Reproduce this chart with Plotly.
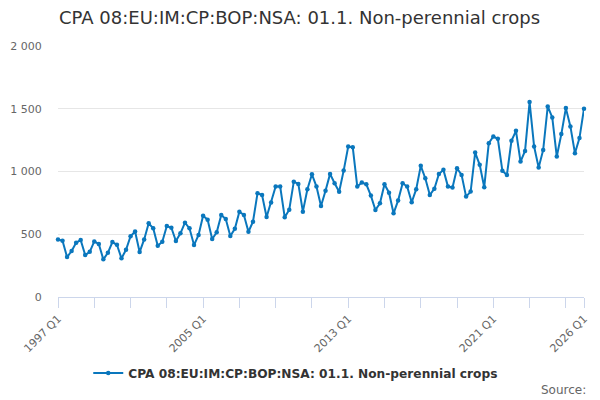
import plotly.graph_objects as go

years = list(range(1997, 2027))
quarters = [f"{y} Q{q}" for y in years for q in range(1, 5)][:117]

values = [
    459, 448, 318, 366,   # 1997
    432, 454, 334, 360,   # 1998
    443, 422, 300, 352,   # 1999
    438, 416, 308, 376,   # 2000
    484, 522, 358, 459,   # 2001
    587, 547, 408, 440,   # 2002
    565, 552, 446, 507,   # 2003
    592, 547, 414, 494,   # 2004
    648, 615, 462, 515,   # 2005
    653, 621, 486, 544,   # 2006
    680, 653, 520, 600,   # 2007
    827, 813, 637, 752,   # 2008
    880, 880, 635, 696,   # 2009
    919, 901, 680, 859,   # 2010
    978, 880, 725, 847,   # 2011
    981, 906, 839, 1007,  # 2012
    1199, 1194, 880, 912, # 2013
    898, 808, 693, 747,   # 2014
    898, 831, 667, 768,   # 2015
    906, 880, 755, 859,   # 2016
    1045, 946, 813, 863,  # 2017
    980, 1013, 880, 872,  # 2018
    1026, 973, 800, 840,  # 2019
    1151, 1053, 875, 1226,# 2020
    1279, 1260, 1005, 973,# 2021
    1245, 1324, 1079, 1164,# 2022
    1553, 1199, 1031, 1172,# 2023
    1518, 1431, 1119, 1298,# 2024
    1505, 1359, 1146, 1266,# 2025
    1500,                 # 2026
]

series_name = "CPA 08:EU:IM:CP:BOP:NSA: 01.1. Non-perennial crops"
title_text = "CPA 08:EU:IM:CP:BOP:NSA: 01.1. Non-perennial crops"
labelled_ticks = ["1997 Q1", "2005 Q1", "2013 Q1", "2021 Q1", "2026 Q1"]
y_ticks = [0, 500, 1000, 1500, 2000]
y_tick_labels = ["0", "500", "1 000", "1 500", "2 000"]

tick_positions = [quarters[i] for i in range(0, len(quarters), 8)]
if quarters[-1] not in tick_positions:
    tick_positions.append(quarters[-1])
tick_text = [q if q in labelled_ticks else "" for q in tick_positions]

color = "#0a77bd"
font_family = "DejaVu Sans"

fig = go.Figure()
fig.add_trace(go.Scatter(
    x=quarters, y=values, name=series_name,
    mode="lines+markers",
    line=dict(color=color, width=2),
    marker=dict(color=color, size=4.5, symbol="circle"),
    cliponaxis=False,
    showlegend=True,
))

fig.update_layout(
    width=600, height=400,
    margin=dict(l=50, r=24, t=38, b=111, autoexpand=False),
    paper_bgcolor="white", plot_bgcolor="white",
    font=dict(family=font_family, color="#666666"),
    title=dict(text=title_text, x=51/600, xref="container", xanchor="left",
               y=1-10/400, yref="container", yanchor="middle",
               font=dict(size=18, color="#333333", family=font_family)),
    showlegend=True,
    legend=dict(orientation="h", x=0.452, xanchor="center", y=-0.303, yanchor="middle",
                font=dict(size=12.2, color="#333333", family=font_family, weight="bold"),
                itemwidth=30, bgcolor="rgba(0,0,0,0)"),
    xaxis=dict(
        type="category", automargin=False,
        range=[0, len(quarters) - 1],
        tickmode="array", tickvals=tick_positions, ticktext=tick_text,
        tickangle=-45,
        ticks="outside", ticklen=10, tickcolor="#ccd6eb", tickwidth=1,
        showline=True, linecolor="#ccd6eb", linewidth=1,
        showgrid=False, zeroline=False,
        tickfont=dict(size=11, color="#666666", family=font_family),
    ),
    yaxis=dict(
        automargin=False,
        range=[0, 2000],
        tickmode="array", tickvals=y_ticks, ticktext=y_tick_labels,
        showgrid=True, gridcolor="#e6e6e6", gridwidth=1,
        zeroline=False, showline=False,
        ticks="outside", ticklen=13, tickcolor="rgba(0,0,0,0)",
        tickfont=dict(size=11, color="#666666", family=font_family),
    ),
    annotations=[dict(text="Source:", x=(588-58)/526, xref="paper", xanchor="right",
                      y=(297-390)/251, yref="paper", yanchor="middle",
                      showarrow=False, font=dict(size=12, color="#666666", family=font_family))],
)

fig.write_html("out.html")
